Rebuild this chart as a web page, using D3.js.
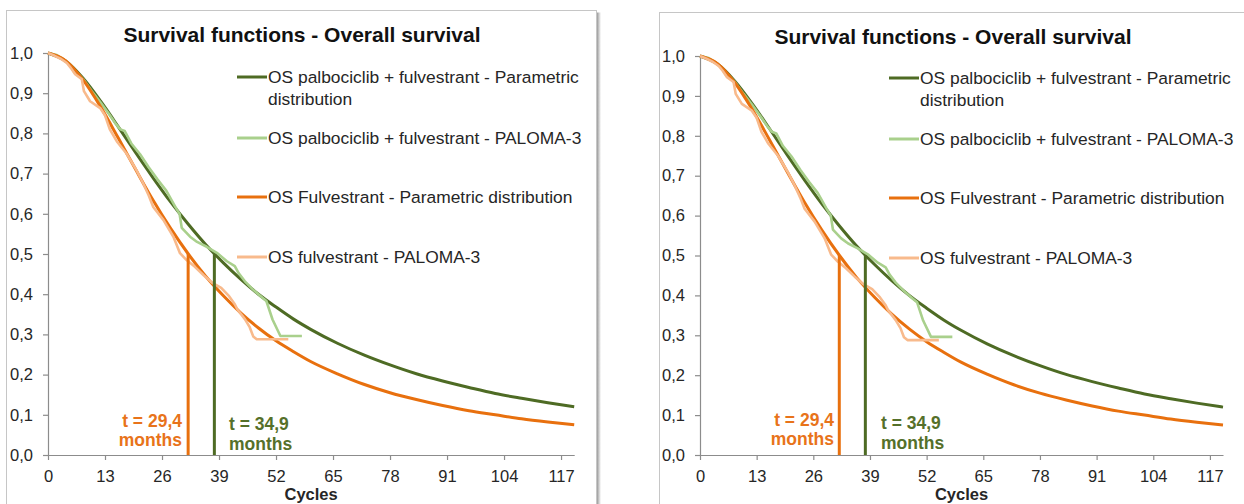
<!DOCTYPE html>
<html>
<head>
<meta charset="utf-8">
<script src="https://cdn.jsdelivr.net/npm/d3@7"></script>
<style>
  html, body { margin: 0; padding: 0; background: #ffffff; }
  svg { display: block; }
  text { font-family: "Liberation Sans", Arial, sans-serif; }
</style>
</head>
<body>
<svg id="chart" width="1244" height="504"></svg>
<script>
// ---------------- data ----------------
const chartTitle = "Survival functions - Overall survival";
const xAxisTitle = "Cycles";
const cycleTicks = [0, 13, 26, 39, 52, 65, 78, 91, 104, 117];
const survTicks = [0, 0.1, 0.2, 0.3, 0.4, 0.5, 0.6, 0.7, 0.8, 0.9, 1.0];

// parametric distributions
const paramCycles = [0, 4, 8, 12, 16, 20, 24, 28, 32, 36, 40, 44, 48, 52, 56, 60, 66, 72, 78, 84, 90, 96, 102, 108, 114, 120];
const palboParam  = [1.000, 0.980, 0.937, 0.880, 0.817, 0.752, 0.689, 0.629, 0.574, 0.523, 0.478, 0.437, 0.400, 0.368, 0.338, 0.312, 0.278, 0.249, 0.224, 0.202, 0.184, 0.168, 0.153, 0.141, 0.130, 0.120];
const fulvParam   = [1.000, 0.981, 0.933, 0.866, 0.789, 0.710, 0.633, 0.563, 0.500, 0.444, 0.396, 0.353, 0.316, 0.284, 0.257, 0.232, 0.202, 0.176, 0.155, 0.138, 0.123, 0.110, 0.100, 0.090, 0.082, 0.075];

// PALOMA-3 Kaplan-Meier curves
const palboKmCycles = [0, 2, 4, 5, 6, 7, 8, 10, 12, 14, 15.5, 16.5, 17.5, 19, 21, 23, 25, 27, 29, 30, 30.5, 32.4, 34, 36.2, 38.5, 40.8, 42.6, 43.5, 44.9, 46.7, 48.9, 49.8, 51.2, 53, 57.9];
const palboKm       = [1.000, 0.995, 0.980, 0.970, 0.952, 0.946, 0.935, 0.905, 0.877, 0.847, 0.823, 0.810, 0.806, 0.775, 0.748, 0.715, 0.685, 0.657, 0.618, 0.600, 0.565, 0.543, 0.530, 0.518, 0.503, 0.482, 0.470, 0.452, 0.432, 0.412, 0.391, 0.383, 0.337, 0.296, 0.296];

const fulvKmCycles = [0, 1.5, 3, 4.3, 5.2, 6.2, 7.7, 8.2, 9.6, 11.9, 13, 14.1, 15.7, 17.9, 20.1, 21.7, 23, 24, 26.3, 28.6, 30.1, 31.6, 33.5, 35.5, 37.5, 39.5, 41.3, 42.6, 43.2, 44.9, 46, 46.8, 47.6, 54.8];
const fulvKm       = [1.000, 0.993, 0.985, 0.975, 0.963, 0.947, 0.935, 0.905, 0.880, 0.863, 0.845, 0.810, 0.780, 0.750, 0.710, 0.676, 0.645, 0.617, 0.585, 0.543, 0.502, 0.485, 0.468, 0.447, 0.428, 0.416, 0.395, 0.375, 0.362, 0.338, 0.318, 0.295, 0.288, 0.288];

// medians (months) and conversion months -> 28-day cycles
const medianMonths = [29.4, 34.9];
const medianLabels = ["t = 29,4", "t = 34,9"];
const daysPerMonth = 30.4375, daysPerCycle = 28;

const seriesNames = [
  ["OS palbociclib + fulvestrant - Parametric", "distribution"],
  ["OS palbociclib + fulvestrant - PALOMA-3"],
  ["OS Fulvestrant - Parametric distribution"],
  ["OS fulvestrant - PALOMA-3"]
];

// ---------------- styles ----------------
const C = {
  darkGreen: "#4E6B24",
  lightGreen: "#A9D08C",
  orange: "#E8700E",
  lightOrange: "#F8BA8C",
  axis: "#8C8C8C",
  text: "#262626",
  greenText: "#55702A",
  orangeText: "#E8731A"
};

const panels = [
  { ox: 48,  xEnd: 574.2, top: 53, bottom: 455, frameX: 6.5,   frameY: 10.5, titleX: 302, titleY: 42, legY: 0, orangeY: 0, greenY: 0 },
  { ox: 700, xEnd: 1223,  top: 56, bottom: 455, frameX: 659.5, frameY: 12.5, titleX: 953, titleY: 44, legY: 1, orangeY: -1, greenY: -1 }
];

const svg = d3.select("#chart");
svg.append("rect").attr("width", 1244).attr("height", 504).attr("fill", "#fff");

// shadow gradient for the left frame
const defs = svg.append("defs");
const grad = defs.append("linearGradient").attr("id", "shadow").attr("x1", 0).attr("x2", 1).attr("y1", 0).attr("y2", 0);
grad.append("stop").attr("offset", "0%").attr("stop-color", "#9a9a9a");
grad.append("stop").attr("offset", "100%").attr("stop-color", "#ffffff");

const fmt = v => d3.format(".1f")(v).replace(".", ",");

function drawPanel(p) {
  const g = svg.append("g");
  // frame
  if (p.frameX < 100) {
    g.append("rect").attr("x", p.frameX + 590.5).attr("y", p.frameY + 2).attr("width", 4).attr("height", 520)
      .attr("fill", "url(#shadow)");
  }
  g.append("rect").attr("x", p.frameX).attr("y", p.frameY).attr("width", 590).attr("height", 520)
    .attr("fill", "#fff").attr("stroke", "#c6c6c6").attr("stroke-width", 1);

  const x = d3.scaleLinear().domain([0, 120]).range([p.ox, p.xEnd]);
  const y = d3.scaleLinear().domain([0, 1]).range([p.bottom, p.top]);

  // title
  g.append("text").attr("x", p.titleX).attr("y", p.titleY).attr("text-anchor", "middle")
    .attr("font-size", 21).attr("font-weight", "bold").attr("fill", "#111").text(chartTitle);

  // axes
  const yAxis = d3.axisLeft(y).tickValues(survTicks).tickFormat(fmt).tickSize(5).tickSizeOuter(0).tickPadding(10);
  const xAxis = d3.axisBottom(x).tickValues(cycleTicks).tickSize(5).tickSizeOuter(0).tickPadding(10);
  const ya = g.append("g").attr("transform", `translate(${p.ox},0)`).call(yAxis);
  const xa = g.append("g").attr("transform", `translate(0,${p.bottom})`).call(xAxis);
  [ya, xa].forEach(a => {
    a.selectAll("path,line").attr("stroke", C.axis).attr("stroke-width", 1.2);
    a.selectAll("text").attr("font-size", 16.5).attr("fill", C.text)
      .attr("font-family", '"Liberation Sans", Arial, sans-serif');
  });

  g.append("text").attr("x", (p.ox + p.xEnd) / 2).attr("y", 500).attr("text-anchor", "middle")
    .attr("font-size", 16.5).attr("font-weight", "bold").attr("fill", C.text).text(xAxisTitle);

  const line = (xs, ys, curve) => d3.line().x((d, i) => x(xs[i])).y(d => y(d)).curve(curve)(ys);

  // series
  g.append("path").attr("d", line(paramCycles, palboParam, d3.curveMonotoneX))
    .attr("fill", "none").attr("stroke", C.darkGreen).attr("stroke-width", 3);
  g.append("path").attr("d", line(palboKmCycles, palboKm, d3.curveLinear))
    .attr("fill", "none").attr("stroke", C.lightGreen).attr("stroke-width", 2.6).attr("stroke-linejoin", "round");
  g.append("path").attr("d", line(paramCycles, fulvParam, d3.curveMonotoneX))
    .attr("fill", "none").attr("stroke", C.orange).attr("stroke-width", 3);
  g.append("path").attr("d", line(fulvKmCycles, fulvKm, d3.curveLinear))
    .attr("fill", "none").attr("stroke", C.lightOrange).attr("stroke-width", 2.6).attr("stroke-linejoin", "round");

  // median markers
  const medCycles = medianMonths.map(m => m * daysPerMonth / daysPerCycle);
  const medColors = [C.orange, C.darkGreen];
  medCycles.forEach((c, i) => {
    g.append("line").attr("x1", x(c)).attr("x2", x(c)).attr("y1", y(0)).attr("y2", y(0.5))
      .attr("stroke", medColors[i]).attr("stroke-width", 3);
  });
  // labels
  const oT = g.append("text").attr("text-anchor", "end").attr("font-size", 17.5).attr("font-weight", "bold")
    .attr("fill", C.orangeText);
  oT.append("tspan").attr("x", p.ox + 134).attr("y", 427 + p.orangeY).text(medianLabels[0]);
  oT.append("tspan").attr("x", p.ox + 134).attr("y", 446 + p.orangeY).text("months");
  const gT = g.append("text").attr("text-anchor", "start").attr("font-size", 17.5).attr("font-weight", "bold")
    .attr("fill", C.greenText);
  gT.append("tspan").attr("x", p.ox + 181).attr("y", 430 + p.greenY).text(medianLabels[1]);
  gT.append("tspan").attr("x", p.ox + 181).attr("y", 450 + p.greenY).text("months");

  // legend
  const legColors = [C.darkGreen, C.lightGreen, C.orange, C.lightOrange];
  const legCenters = [77, 138, 197, 257];
  seriesNames.forEach((names, i) => {
    const cy = legCenters[i] + p.legY;
    g.append("line").attr("x1", p.ox + 189).attr("x2", p.ox + 219).attr("y1", cy).attr("y2", cy)
      .attr("stroke", legColors[i]).attr("stroke-width", 3);
    names.forEach((n, j) => {
      g.append("text").attr("x", p.ox + 220).attr("y", cy + 6.3 + j * 21.5)
        .attr("font-size", 17.4).attr("fill", C.text).text(n);
    });
  });
}

panels.forEach(drawPanel);
</script>
</body>
</html>
